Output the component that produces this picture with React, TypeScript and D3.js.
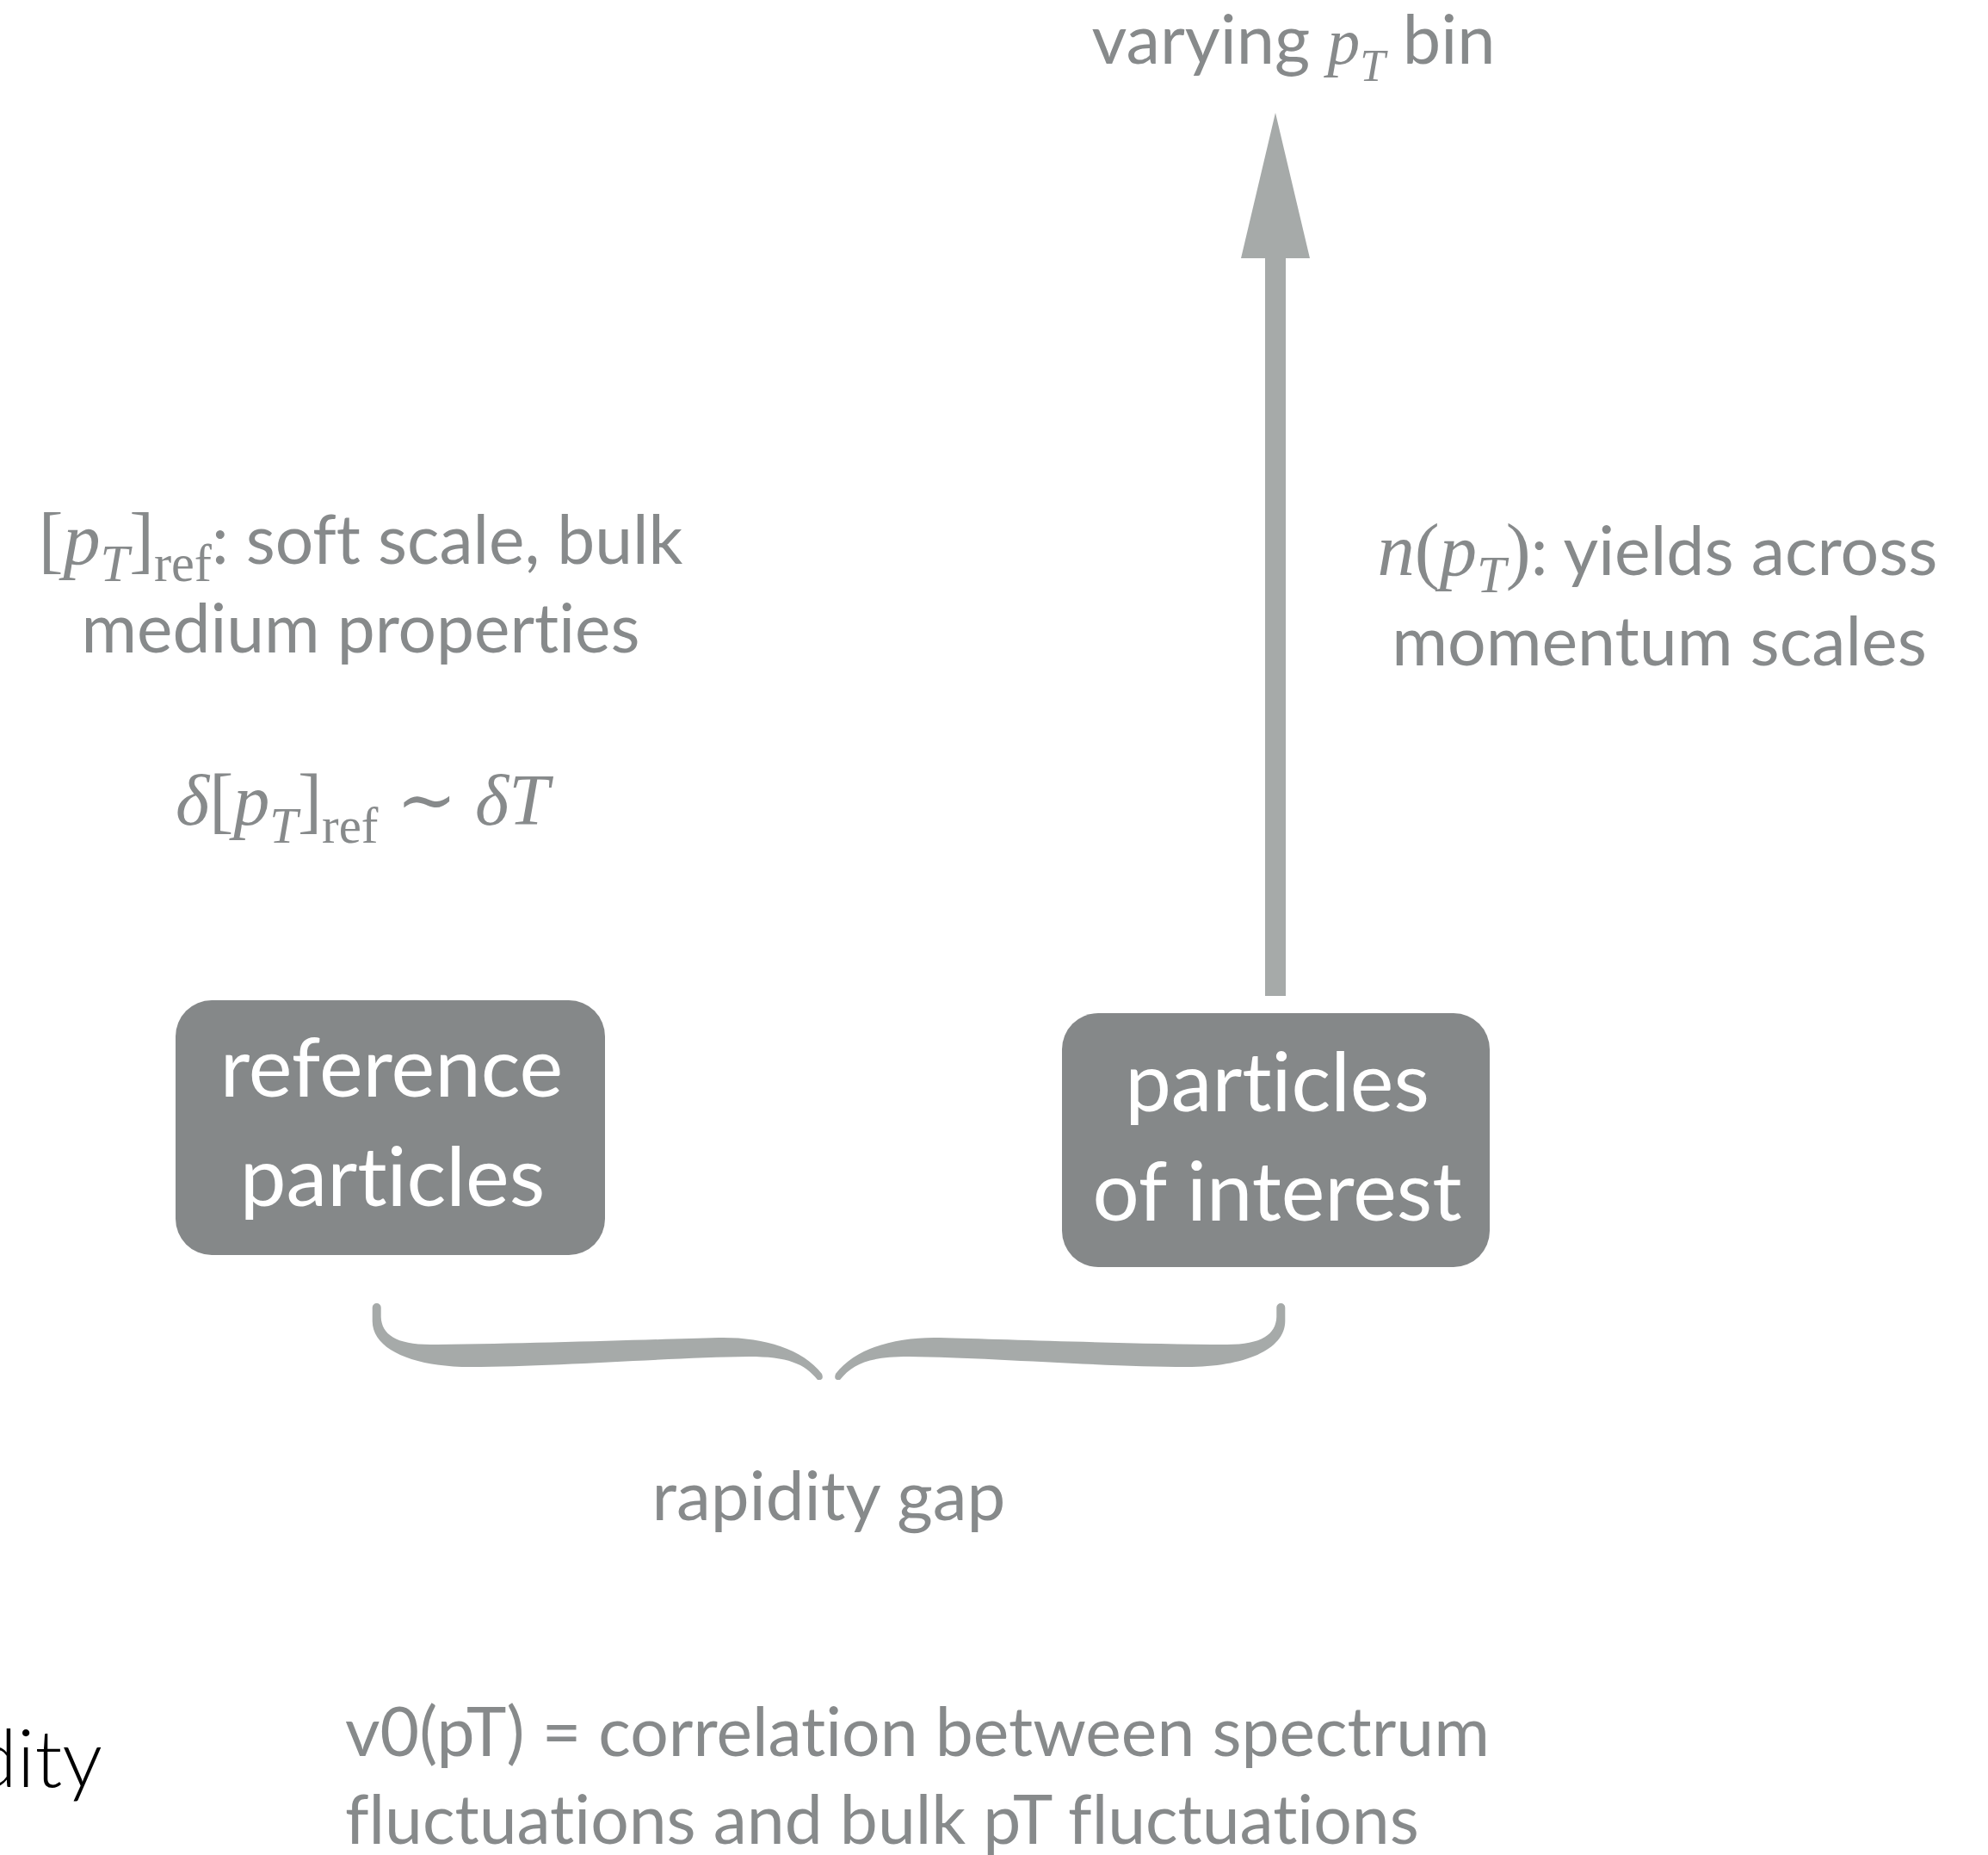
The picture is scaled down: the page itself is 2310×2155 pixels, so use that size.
import React, { useLayoutEffect, useRef, useState } from 'react';
import * as d3 from 'd3';

type Seg = { t: string; s?: 'sans' | 'rm' | 'it'; sub?: boolean };

// ---------- content ----------
const topLabel: Seg[] = [{ t: 'varying ' }, { t: 'p', s: 'it' }, { t: 'T', s: 'it', sub: true }, { t: ' bin' }];

const refNoteLines: Seg[][] = [
  [
    { t: '[', s: 'rm' }, { t: 'p', s: 'it' }, { t: 'T', s: 'it', sub: true }, { t: ']', s: 'rm' },
    { t: 'ref', s: 'rm', sub: true }, { t: ': soft scale, bulk' },
  ],
  [{ t: 'medium properties' }],
];

const refFormula: Seg[][] = [[
  { t: 'δ', s: 'it' }, { t: '[', s: 'rm' }, { t: 'p', s: 'it' }, { t: 'T', s: 'it', sub: true },
  { t: ']', s: 'rm' }, { t: 'ref', s: 'rm', sub: true }, { t: ' ∼ ', s: 'rm' }, { t: 'δ', s: 'it' }, { t: 'T', s: 'it' },
]];

const yieldNoteLines: Seg[][] = [
  [
    { t: 'n', s: 'it' }, { t: '(', s: 'rm' }, { t: 'p', s: 'it' }, { t: 'T', s: 'it', sub: true },
    { t: ')', s: 'rm' }, { t: ': yields across' },
  ],
  [{ t: 'momentum scales' }],
];

const refBoxLabel = ['reference', 'particles'];
const poiBoxLabel = ['particles', 'of interest'];
const gapLabel = ['rapidity gap'];
const bottomNote = ['v0(pT) = correlation between spectrum', 'fluctuations and bulk pT fluctuations'];
const cutLabel = 'dity';

// ---------- styles ----------
const SANS = "Lato, 'Noto Sans', 'DejaVu Sans', sans-serif";
const SERIF = "'Liberation Serif', 'DejaVu Serif', serif";
const TEXT_GRAY = '#878a8b';
const BOX_GRAY = '#858889';
const ARROW_GRAY = '#a6aaa9';
const W = 2310;
const H = 2155;
const BASE = 100;
const TEXT_STYLE: React.CSSProperties = { whiteSpace: 'pre', fontVariantLigatures: 'none', fontFeatureSettings: '"liga" 0, "clig" 0' };

const plain = (lines: string[]): Seg[][] => lines.map((t) => [{ t }]);

function renderSegs(segs: Seg[], F: number, serifRatio: number) {
  let off = 0;
  return segs.map((s, j) => {
    const sub = !!s.sub;
    const target = sub ? F * 0.25 : 0;
    const dy = target - off;
    off = target;
    const serif = s.s === 'rm' || s.s === 'it';
    const size = (serif ? F * serifRatio : F) * (sub ? 0.7 : 1);
    return (
      <tspan
        key={j}
        dy={dy !== 0 ? dy : undefined}
        fontFamily={serif ? SERIF : SANS}
        fontStyle={s.s === 'it' ? 'italic' : 'normal'}
        fontSize={size}
      >
        {s.t}
      </tspan>
    );
  });
}

type FitProps = {
  lines: Seg[][];
  xs: number[];
  ys: number[];
  widths: number[];
  anchor?: 'start' | 'middle' | 'end';
  fill: string;
  weight?: number;
  serifRatio?: number;
};

function FitBlock({ lines, xs, ys, widths, anchor = 'middle', fill, weight = 400, serifRatio = 0.95 }: FitProps) {
  const refs = useRef<(SVGTextElement | null)[]>([]);
  const scaleRef = useRef(1);
  const [scale, setScale] = useState(1);
  useLayoutEffect(() => {
    let tm = 0;
    let tw = 0;
    refs.current.forEach((el, i) => {
      if (el) {
        tm += el.getComputedTextLength();
        tw += widths[i];
      }
    });
    if (tm > 0) {
      const ns = scaleRef.current * (tw / tm);
      scaleRef.current = ns;
      setScale(ns);
    }
  }, []);
  const F = BASE * scale;
  return (
    <g>
      {lines.map((segs, i) => (
        <text
          key={i}
          ref={(el) => {
            refs.current[i] = el;
          }}
          x={xs[i]}
          y={ys[i]}
          textAnchor={anchor}
          fill={fill}
          fontFamily={SANS}
          fontWeight={weight}
          fontSize={F}
          style={TEXT_STYLE}
        >
          {renderSegs(segs, F, serifRatio)}
        </text>
      ))}
    </g>
  );
}

// ---------- shapes ----------
function arrowPath(tipX: number, tipY: number, headBase: number, headHalf: number, shaftHalf: number, end: number) {
  const p = d3.path();
  p.moveTo(tipX, tipY);
  p.lineTo(tipX + headHalf, headBase);
  p.lineTo(tipX + shaftHalf, headBase);
  p.lineTo(tipX + shaftHalf, end);
  p.lineTo(tipX - shaftHalf, end);
  p.lineTo(tipX - shaftHalf, headBase);
  p.lineTo(tipX - headHalf, headBase);
  p.closePath();
  return p.toString();
}

function braceHalfPath() {
  const p = d3.path();
  p.moveTo(432.7, 1535);
  p.lineTo(432.7, 1519);
  p.arc(437.7, 1519, 5, Math.PI, 0);
  p.lineTo(442.7, 1530);
  p.bezierCurveTo(443.5, 1550, 460, 1562, 500, 1562);
  p.bezierCurveTo(620, 1561, 760, 1556, 835, 1554);
  p.bezierCurveTo(885, 1553, 932, 1566, 955, 1596);
  p.quadraticCurveTo(958, 1604, 950, 1603);
  p.bezierCurveTo(935, 1584, 915, 1576, 870, 1576);
  p.bezierCurveTo(780, 1577, 640, 1588, 547, 1588);
  p.bezierCurveTo(480, 1588, 433, 1568, 432.7, 1535);
  p.closePath();
  return p.toString();
}

const BRACE_CENTER = 963;

export default function App() {
  const brace = braceHalfPath();
  return (
    <svg
      width={W}
      height={H}
      viewBox={`0 0 ${W} ${H}`}
      style={{ position: 'absolute', left: 0, top: 0, display: 'block', background: '#fff' }}
    >
      <rect x={0} y={0} width={W} height={H} fill="#fff" />

      {/* arrow */}
      <path d={arrowPath(1482, 131, 300, 40, 12, 1157)} fill={ARROW_GRAY} />
      <FitBlock lines={[topLabel]} xs={[1503]} ys={[74]} widths={[469]} fill={TEXT_GRAY} />

      {/* left annotations */}
      <FitBlock lines={refNoteLines} xs={[419, 419]} ys={[655, 758]} widths={[741, 657]} fill={TEXT_GRAY} serifRatio={1.1} />
      <FitBlock lines={refFormula} xs={[421]} ys={[958]} widths={[434]} fill={TEXT_GRAY} serifRatio={1} />

      {/* right annotations */}
      <FitBlock lines={yieldNoteLines} xs={[1926, 1928]} ys={[668, 773]} widths={[653, 620]} fill={TEXT_GRAY} serifRatio={1.1} />

      {/* boxes */}
      <rect x={204} y={1162} width={499} height={296} rx={42} ry={42} fill={BOX_GRAY} />
      <FitBlock lines={plain(refBoxLabel)} xs={[455, 456]} ys={[1274, 1401]} widths={[399, 354]} fill="#ffffff" />
      <rect x={1234} y={1177} width={497} height={295} rx={42} ry={42} fill={BOX_GRAY} />
      <FitBlock lines={plain(poiBoxLabel)} xs={[1484, 1484]} ys={[1291, 1418]} widths={[354, 429]} fill="#ffffff" />

      {/* brace */}
      <path d={brace} fill={ARROW_GRAY} />
      <path d={brace} fill={ARROW_GRAY} transform={`translate(${2 * BRACE_CENTER},0) scale(-1,1)`} />
      <FitBlock lines={plain(gapLabel)} xs={[963]} ys={[1766]} widths={[411]} fill={TEXT_GRAY} />

      {/* bottom */}
      <text
        x={119}
        y={2076}
        textAnchor="end"
        fill="#000000"
        fontFamily={SANS}
        fontWeight={300}
        fontSize={93}
        style={TEXT_STYLE}
      >
        {cutLabel}
      </text>
      <FitBlock
        lines={plain(bottomNote)}
        xs={[401, 401]}
        ys={[2040, 2142]}
        widths={[1338, 1240]}
        anchor="start"
        fill={TEXT_GRAY}
      />
    </svg>
  );
}
